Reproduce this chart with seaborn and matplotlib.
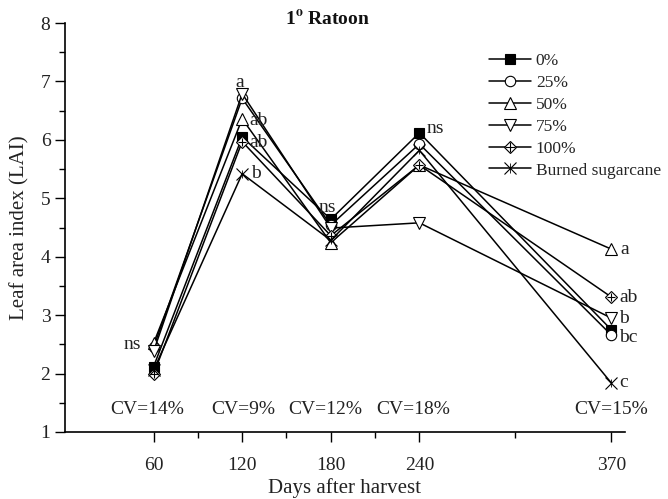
import numpy as np
import pandas as pd
import matplotlib
matplotlib.use("Agg")
import matplotlib.pyplot as plt
import seaborn as sns
from matplotlib.lines import Line2D
from matplotlib.legend_handler import HandlerTuple
from matplotlib.ticker import FixedLocator, MultipleLocator

days = [60, 120, 180, 240, 370]
lai_0 = [2.12, 6.05, 4.64, 6.12, 2.75]
lai_25 = [2.45, 6.71, 4.54, 5.93, 2.66]
lai_50 = [2.52, 6.36, 4.24, 5.57, 4.13]
lai_75 = [2.38, 6.79, 4.49, 4.58, 2.95]
lai_100 = [1.99, 5.97, 4.36, 5.57, 3.31]
lai_burn = [2.06, 5.42, 4.28, 5.82, 1.84]
series_names = ["0%", "25%", "50%", "75%", "100%", "Burned sugarcane"]
cv_labels = ["CV=14%", "CV=9%", "CV=12%", "CV=18%", "CV=15%"]
cv_days = [56, 121, 176, 236, 370]

sns.set_theme(style="ticks")
plt.rcParams["font.family"] = ["Liberation Serif", "DejaVu Serif"]
plt.rcParams["mathtext.fontset"] = "stix"

values = [lai_0, lai_25, lai_50, lai_75, lai_100, lai_burn]
df = pd.DataFrame({
    "day": np.tile(days, len(series_names)),
    "lai": np.concatenate(values),
    "treat": np.repeat(series_names, len(days)),
})

fig = plt.figure(figsize=(6.68, 4.99), dpi=100)
ax = fig.add_axes([65/668, 1-432/499, (624.6-65)/668, (432-23)/499])

styles = {
    "0%": dict(marker="s", mfc="black", ms=7),
    "25%": dict(marker="o", mfc="white", ms=7.5),
    "50%": dict(marker="^", mfc="white", ms=8),
    "75%": dict(marker="v", mfc="white", ms=8),
    "100%": dict(marker="D", mfc="white", ms=6.5),
    "Burned sugarcane": dict(marker="x", mfc="white", ms=8),
}
handles = []
for name in series_names:
    sub = df[df.treat == name]
    st = styles[name]
    sns.lineplot(data=sub, x="day", y="lai", ax=ax, color="black", lw=1.1,
                 marker=st["marker"], markersize=st["ms"], markerfacecolor=st["mfc"],
                 markeredgecolor="black", markeredgewidth=0.8, legend=False, zorder=3)
    h = Line2D([], [], color="black", lw=1.1, marker=st["marker"], markersize=st["ms"],
               markerfacecolor=st["mfc"], markeredgecolor="black", markeredgewidth=0.8)
    if name == "100%":
        sns.scatterplot(data=sub, x="day", y="lai", ax=ax, marker="+", s=40,
                        color="black", linewidth=0.8, legend=False, zorder=4)
        h = (h, Line2D([], [], ls="", marker="+", markersize=6.5, color="black", markeredgewidth=0.8))
    if name == "Burned sugarcane":
        sns.scatterplot(data=sub, x="day", y="lai", ax=ax, marker="|", s=40,
                        color="black", linewidth=0.6, legend=False, zorder=4)
        h = (h, Line2D([], [], ls="", marker="|", markersize=6.5, color="black", markeredgewidth=0.6))
    handles.append(h)

ax.set_xlim(0, 379)
ax.set_ylim(1, 8)
ax.xaxis.set_major_locator(FixedLocator(days))
ax.xaxis.set_minor_locator(FixedLocator([90, 150, 210, 305]))
ax.yaxis.set_major_locator(MultipleLocator(1))
ax.yaxis.set_minor_locator(MultipleLocator(0.5))
ax.tick_params(axis="both", which="major", length=7, width=1, labelsize=14, color="black",
               labelcolor="#222222", direction="out")
ax.tick_params(axis="both", which="minor", length=4, width=1, color="black", direction="out")
ax.tick_params(axis="x", which="major", pad=11)
for s in ["top", "right"]:
    ax.spines[s].set_visible(False)
for s in ["left", "bottom"]:
    ax.spines[s].set_color("black")
    ax.spines[s].set_linewidth(1.2)

ax.set_xlabel("Days after harvest", fontsize=15, color="#222222", labelpad=3)
ax.set_ylabel("Leaf area index (LAI)", fontsize=15, color="#222222", labelpad=8)

fs = 14
for d, t in zip(cv_days, cv_labels):
    ax.text(d, 1.38, t, ha="center", va="center", fontsize=fs, color="#222222")

notes = [
    (51.5, 2.5, "ns", "right"),
    (118.6, 6.98, "a", "center"),
    (125.0, 6.33, "ab", "left"),
    (125.0, 5.95, "ab", "left"),
    (126.0, 5.42, "b", "left"),
    (177.6, 4.84, "ns", "center"),
    (245.0, 6.2, "ns", "left"),
    (376.0, 4.13, "a", "left"),
    (375.5, 3.31, "ab", "left"),
    (375.5, 2.95, "b", "left"),
    (375.5, 2.61, "bc", "left"),
    (375.5, 1.84, "c", "left"),
]
for x, y, t, ha in notes:
    ax.text(x, y, t, ha=ha, va="center", fontsize=fs, color="#222222")

fig.text(328/668, 1-19/499, r"1$^{\mathbf{o}}$ Ratoon", ha="center", va="center",
         fontsize=14, fontweight="bold", color="#111111")

ax.legend(handles, series_names, loc="upper left", bbox_to_anchor=(489/668, 1-53/499),
          bbox_transform=fig.transFigure, frameon=False, fontsize=12.5, handlelength=2.4,
          handletextpad=0.3, labelspacing=0.33, borderaxespad=0, borderpad=0,
          handler_map={tuple: HandlerTuple(ndivide=1)})

fig.savefig("out.png", dpi=100)
